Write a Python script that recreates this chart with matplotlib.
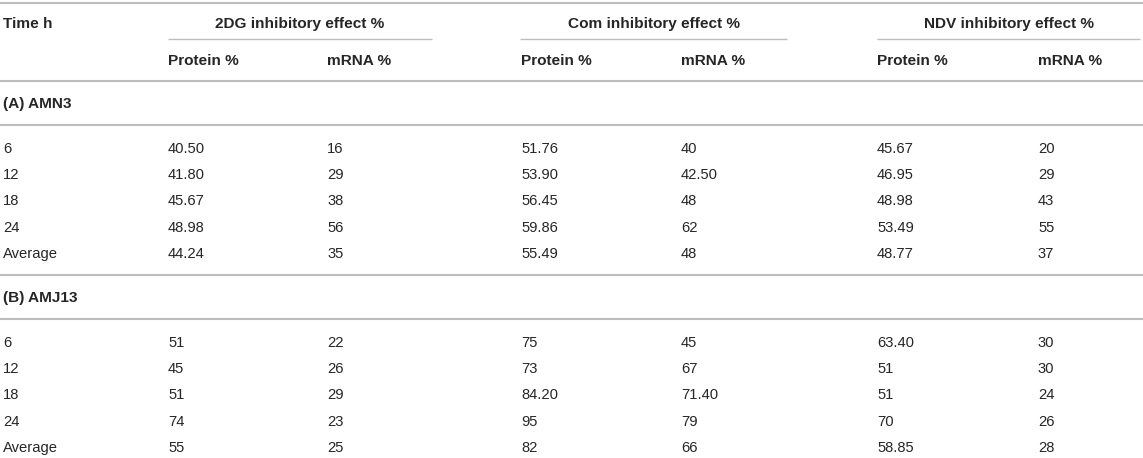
import matplotlib
matplotlib.use("Agg")
import matplotlib.pyplot as plt

plt.rcParams['font.family'] = ['Liberation Sans', 'DejaVu Sans']

# table content
times = ["6", "12", "18", "24", "Average"]
groups = ["2DG inhibitory effect %", "Com inhibitory effect %", "NDV inhibitory effect %"]
sub_cols = ["Protein %", "mRNA %"]
sections = ["(A) AMN3", "(B) AMJ13"]

amn3_2dg_protein = ["40.50", "41.80", "45.67", "48.98", "44.24"]
amn3_2dg_mrna = ["16", "29", "38", "56", "35"]
amn3_com_protein = ["51.76", "53.90", "56.45", "59.86", "55.49"]
amn3_com_mrna = ["40", "42.50", "48", "62", "48"]
amn3_ndv_protein = ["45.67", "46.95", "48.98", "53.49", "48.77"]
amn3_ndv_mrna = ["20", "29", "43", "55", "37"]

amj13_2dg_protein = ["51", "45", "51", "74", "55"]
amj13_2dg_mrna = ["22", "26", "29", "23", "25"]
amj13_com_protein = ["75", "73", "84.20", "95", "82"]
amj13_com_mrna = ["45", "67", "71.40", "79", "66"]
amj13_ndv_protein = ["63.40", "51", "51", "70", "58.85"]
amj13_ndv_mrna = ["30", "30", "24", "26", "28"]

amn3_cols = [amn3_2dg_protein, amn3_2dg_mrna, amn3_com_protein,
             amn3_com_mrna, amn3_ndv_protein, amn3_ndv_mrna]
amj13_cols = [amj13_2dg_protein, amj13_2dg_mrna, amj13_com_protein,
              amj13_com_mrna, amj13_ndv_protein, amj13_ndv_mrna]

W, H = 1143, 458
fig = plt.figure(figsize=(W / 100, H / 100), dpi=100)
ax = fig.add_axes([0, 0, 1, 1])
ax.set_xlim(0, W)
ax.set_ylim(H, 0)
ax.axis("off")

txt = "#262626"
line_c = "#bdbdbd"
fs = 10.6
fs_bold = 11.1
off = 5  # center -> baseline

col_x = [168, 327, 521, 681, 877, 1038]
group_span = [(168, 432), (520, 787), (877, 1140)]


def put(x, y, s, bold=False, ha="left"):
    ax.text(x, y + off, s, fontsize=fs_bold if bold else fs, color=txt,
            ha=ha, va="baseline", fontweight="bold" if bold else "normal")


def hline(y, x0=0, x1=W, lw=1.5):
    ax.plot([x0, x1], [y, y], color=line_c, lw=lw, solid_capstyle="butt")


# header
hline(3)
put(3, 23, "Time h", bold=True)
for (x0, x1), g in zip(group_span, groups):
    put((x0 + x1) / 2, 23, g, bold=True, ha="center")
    hline(39, x0, x1, lw=1.0)
for i, x in enumerate(col_x):
    put(x, 60, sub_cols[i % 2], bold=True)
hline(81)

# sections
blocks = [(103, amn3_cols), (297, amj13_cols)]
for (sy, cols), name in zip(blocks, sections):
    put(3, sy, name, bold=True)
    hline(sy + 22)
    for r, t in enumerate(times):
        y = sy + 45 + r * 26.2
        put(3, y, t)
        for x, col in zip(col_x, cols):
            put(x, y, col[r])
    if name == sections[0]:
        hline(275)

fig.savefig("out.png", dpi=100)
